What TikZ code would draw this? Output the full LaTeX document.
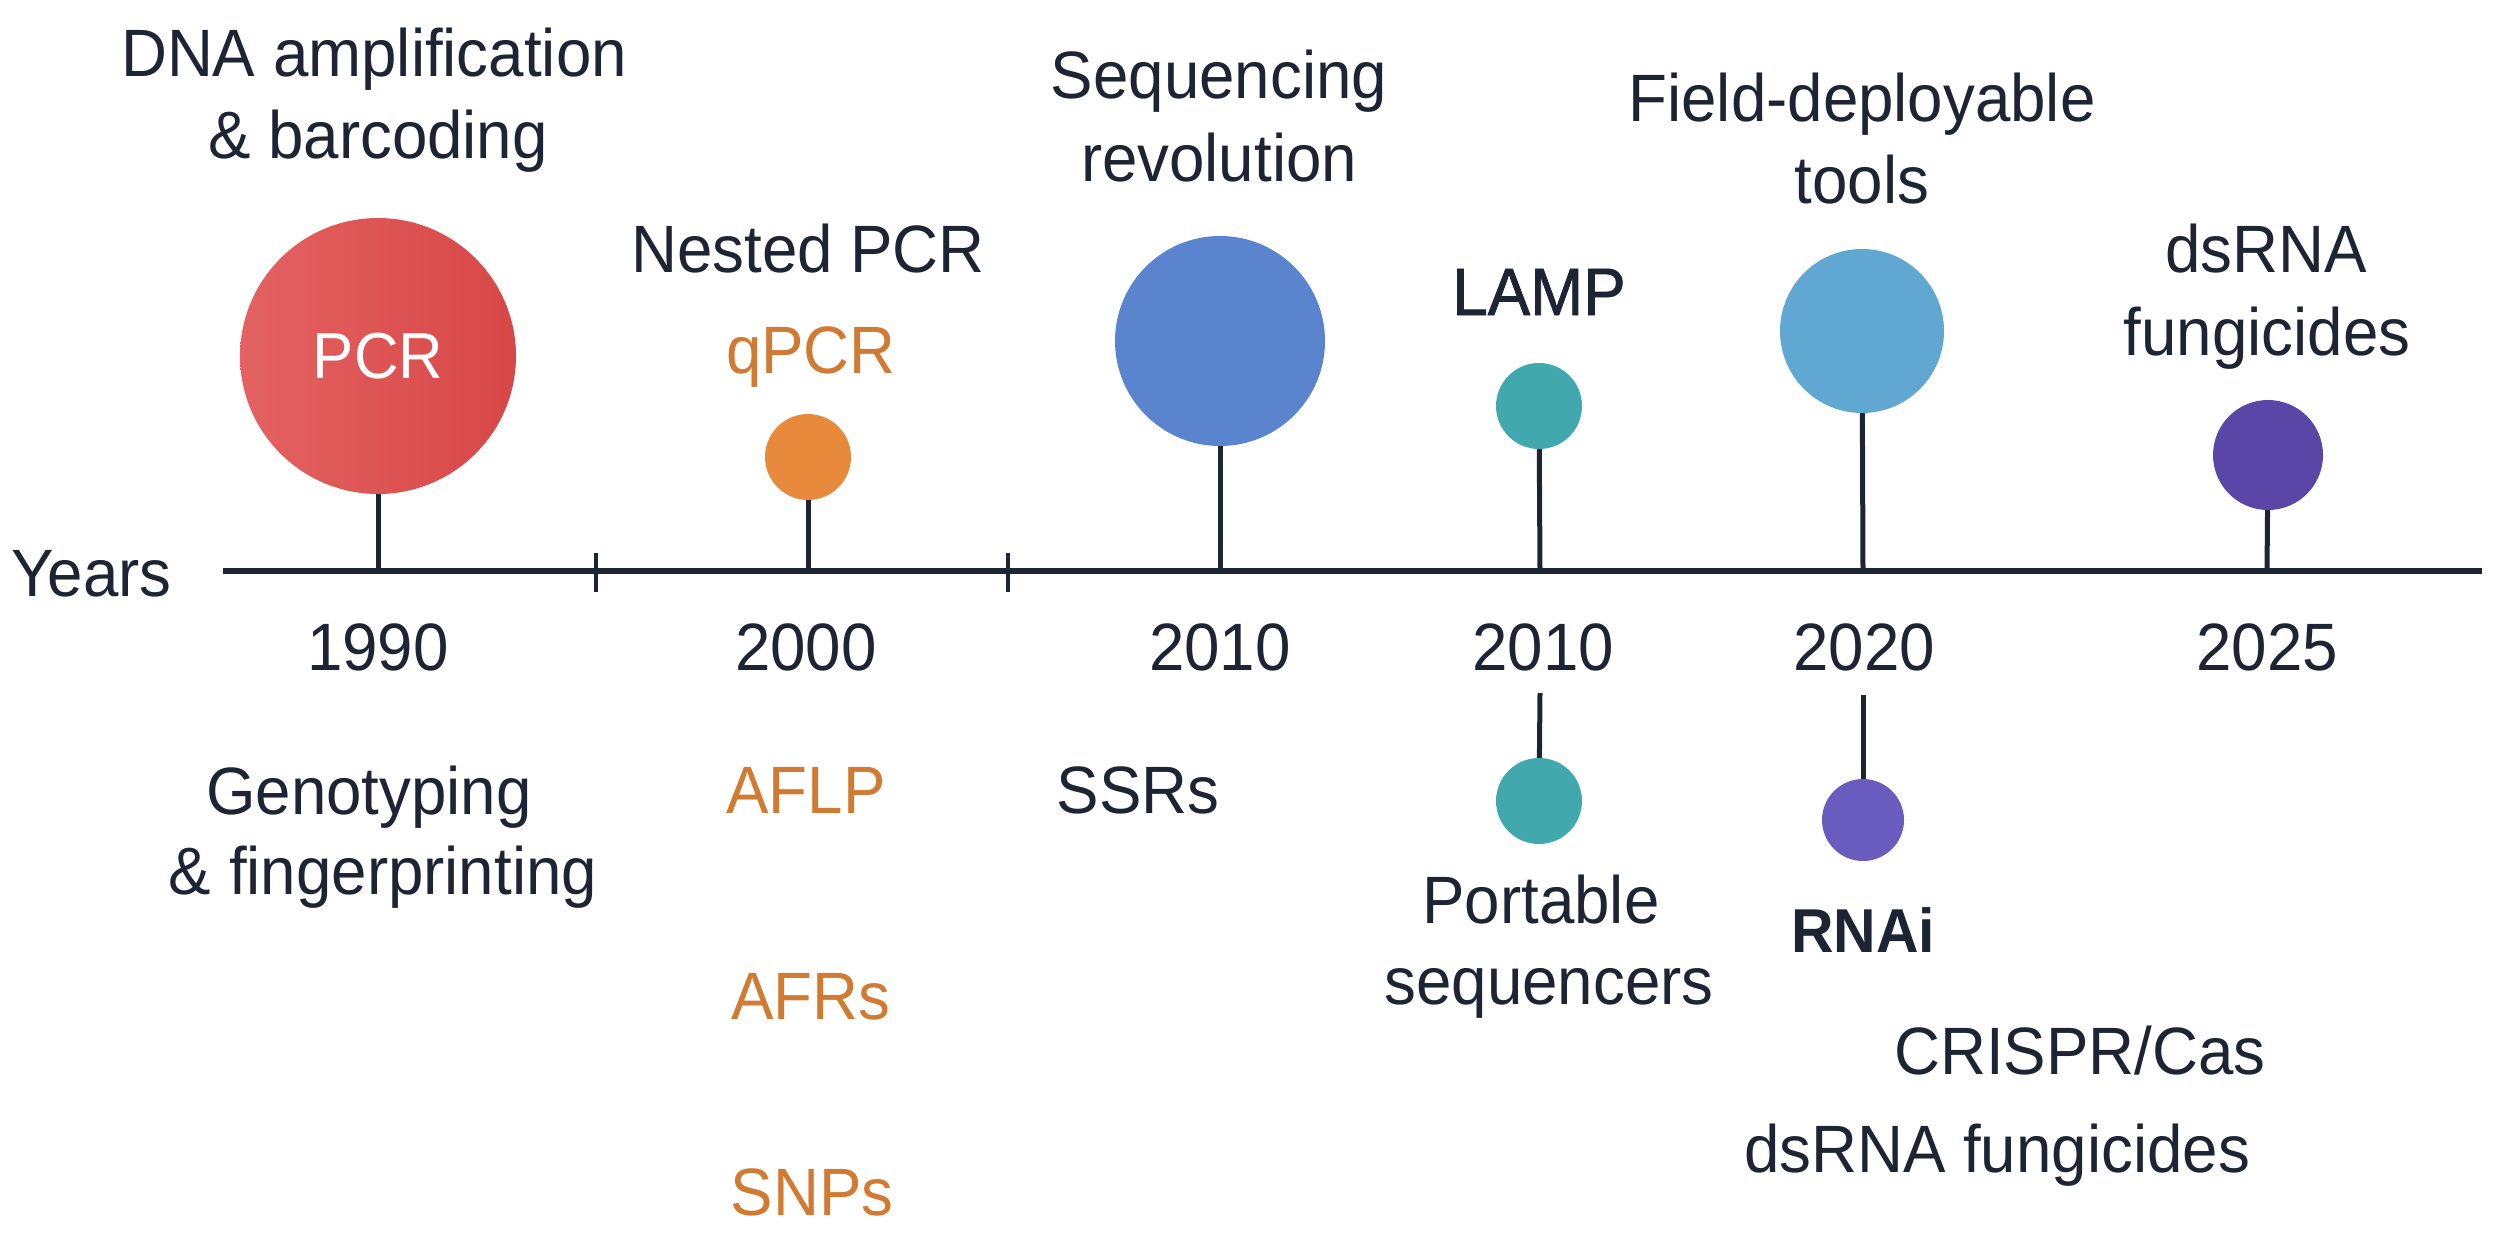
\documentclass[tikz,border=0pt]{standalone}
\usepackage{fontspec}
\setmainfont{Liberation Sans}[FakeStretch=0.95]
\newfontfamily\medfont{Liberation Sans}[FakeStretch=0.95, FakeBold=1.2]
\definecolor{ink}{HTML}{1D2535}
\definecolor{pcrA}{HTML}{E46262}
\definecolor{pcrB}{HTML}{D84747}
\definecolor{orangeC}{HTML}{E88A3C}
\definecolor{orangeT}{HTML}{D07A32}
\definecolor{seqblue}{HTML}{5B84CF}
\definecolor{tealC}{HTML}{41A8AD}
\definecolor{fieldblue}{HTML}{60A8D2}
\definecolor{purpleD}{HTML}{5946A6}
\definecolor{purpleR}{HTML}{6A5BBF}
\begin{document}
\begin{tikzpicture}[x=1pt,y=-1pt,
  lbl/.style={inner sep=0pt, anchor=base, text=ink, font=\fontsize{67}{80}\selectfont},
  olbl/.style={lbl, text=orangeT},
  bubble/.style={circle, inner sep=0pt, draw=none, minimum size=#1},
  stemline/.style={draw=ink, line width=5pt},
  axisline/.style={draw=ink, line width=6.5pt},
  tickline/.style={draw=ink, line width=3.5pt}
]
\useasboundingbox (0,0) rectangle (2507,1250);
\fill[white] (0,0) rectangle (2507,1250);

% axis
\coordinate (axL) at (223,571);
\coordinate (axR) at (2482,571);
\draw[axisline] (axL) -- (axR);
\node[lbl, anchor=base west] (years) at (11,596) {Years};

% ticks
\coordinate (tk1a) at (596,553); \coordinate (tk1b) at (596,592);
\coordinate (tk2a) at (1008,553); \coordinate (tk2b) at (1008,592);
\draw[tickline] (tk1a) -- (tk1b);
\draw[tickline] (tk2a) -- (tk2b);

% axis points
\coordinate (p1990) at (378,571);
\coordinate (p2000) at (808,571);
\coordinate (p2010a) at (1220,571);
\coordinate (p2010b) at (1540,571);
\coordinate (p2020) at (1863,571);
\coordinate (p2025) at (2267,571);

% PCR
\node[bubble=276, left color=pcrA, right color=pcrB, text=white,
      font=\fontsize{65}{78}\selectfont] (pcr) at (378,356) {PCR};
\draw[stemline] (pcr) -- (p1990);
\node[lbl] (dna1) at (374,76) {DNA amplification};
\node[lbl] (dna2) at (378,158) {\& barcoding};

% qPCR
\node[bubble=86, fill=orangeC] (qpcr) at (808,457) {};
\draw[stemline] (qpcr) -- (p2000);
\node[olbl] (qpcrt) at (811,373) {qPCR};
\node[lbl] (nested) at (808,272) {Nested PCR};

% Sequencing
\node[bubble=210, fill=seqblue] (seq) at (1220,341) {};
\draw[stemline] (seq) -- (p2010a);
\node[lbl] (seq1) at (1219,98) {Sequencing};
\node[lbl] (seq2) at (1219,181) {revolution};

% LAMP
\node[bubble=86, fill=tealC] (lamp) at (1539,406) {};
\draw[stemline] (lamp) -- (p2010b);
\node[lbl, font=\fontsize{67}{80}\medfont] (lampt) at (1539,315) {LAMP};

% Field-deployable
\node[bubble=164, fill=fieldblue] (field) at (1862,331) {};
\draw[stemline] (field) -- (p2020);
\node[lbl] (fld1) at (1862,121) {Field-deployable};
\node[lbl] (fld2) at (1862,203) {tools};

% dsRNA fungicides (top)
\node[bubble=110, fill=purpleD] (dsrna) at (2268,455) {};
\draw[stemline] (dsrna) -- (p2025);
\node[lbl] (ds1) at (2266,272) {dsRNA};
\node[lbl] (ds2) at (2267,355) {fungicides};

% year labels
\node[lbl] (y1990) at (378,670) {1990};
\node[lbl] (y2000) at (806,670) {2000};
\node[lbl] (y2010a) at (1220,670) {2010};
\node[lbl] (y2010b) at (1543,670) {2010};
\node[lbl] (y2020) at (1864,670) {2020};
\node[lbl] (y2025) at (2267,670) {2025};

% below axis
\node[lbl] (geno1) at (369,814) {Genotyping};
\node[lbl] (geno2) at (383,894) {\& fingerprinting};
\node[olbl] (aflp) at (806,813) {AFLP};
\node[olbl] (afrs) at (811,1019) {AFRs};
\node[olbl] (snps) at (812,1215) {SNPs};
\node[lbl] (ssrs) at (1138,813) {SSRs};

% Portable sequencers
\coordinate (ps0) at (1540,693);
\node[bubble=86, fill=tealC] (port) at (1539,801) {};
\draw[stemline] (ps0) -- (port);
\node[lbl] (port1) at (1541,923) {Portable};
\node[lbl] (port2) at (1549,1004) {sequencers};

% RNAi
\coordinate (rs0) at (1863,695);
\node[bubble=82, fill=purpleR] (rnai) at (1863,820) {};
\draw[stemline] (rs0) -- (rnai);
\node[lbl, font=\fontsize{62}{74}\selectfont\bfseries] (rnait) at (1863,952) {RNAi};

\node[lbl] (crispr) at (2080,1074) {CRISPR/Cas};
\node[lbl] (dsf) at (1997,1172) {dsRNA fungicides};
\end{tikzpicture}
\end{document}
